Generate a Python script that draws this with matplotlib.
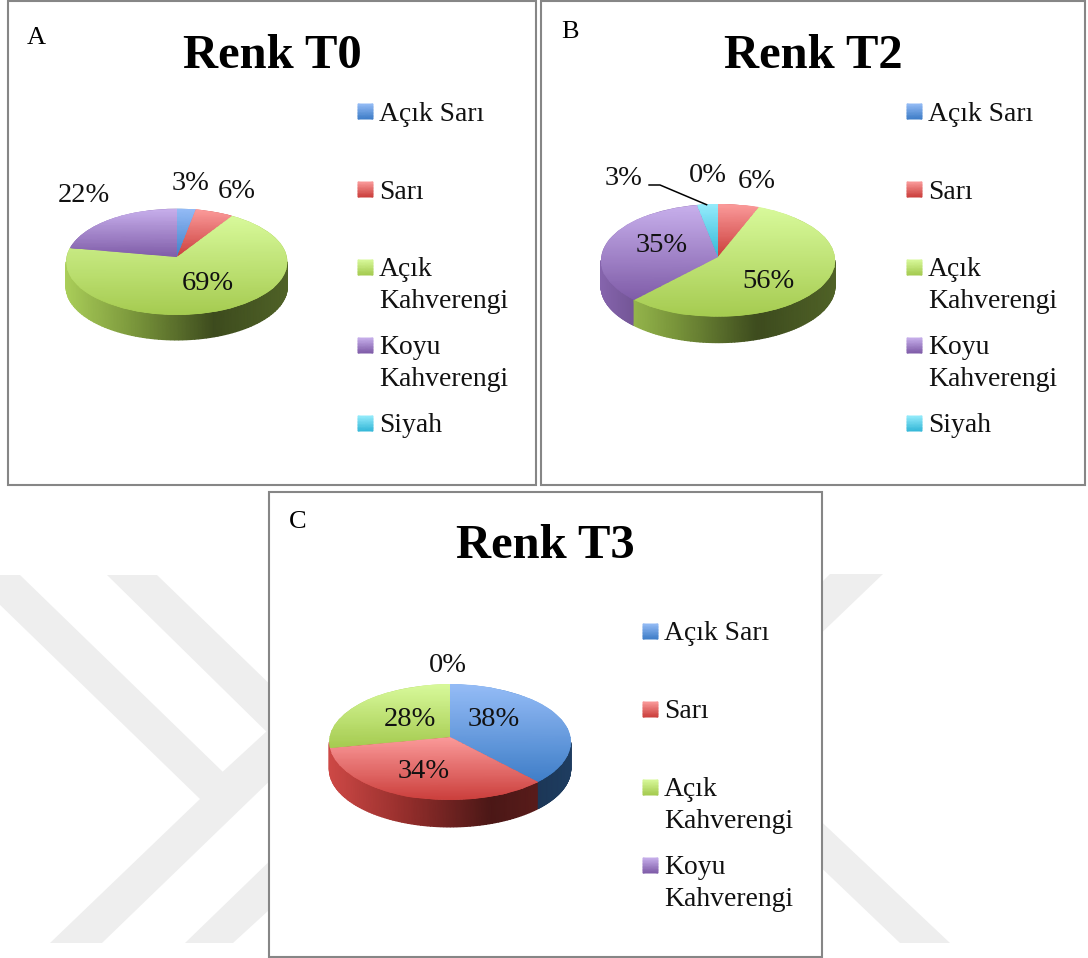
import numpy as np
import matplotlib
matplotlib.use("Agg")
import matplotlib.pyplot as plt
from matplotlib.colors import LinearSegmentedColormap, to_rgb
from matplotlib.patches import Polygon, Rectangle
from matplotlib.transforms import Transform

plt.rcParams['font.family'] = ['Liberation Serif', 'DejaVu Serif']

# ---- data ----
categories_ab = ["Açık Sarı", "Sarı", "Açık\nKahverengi", "Koyu\nKahverengi", "Siyah"]
categories_c = ["Açık Sarı", "Sarı", "Açık\nKahverengi", "Koyu\nKahverengi"]
values_t0 = [3, 6, 69, 22, 0]
values_t2 = [0, 6, 56, 35, 3]
values_t3 = [38, 34, 28, 0]
titles = ["Renk T0", "Renk T2", "Renk T3"]
letters = ["A", "B", "C"]

# ---- styles: (top colour, bottom colour) of each slice ----
FACE = [("#95bcf6", "#3f7ec8"), ("#fb9b9b", "#cb3f3c"), ("#d8f99b", "#a5cb50"),
        ("#c8b0ec", "#7f5ca8"), ("#95ecfc", "#35b8d8")]
INK = "#111111"
W, H = 1088, 958

panels = [
    dict(box=(7.5, 0.5, 536, 484.5), cx=176.7, apex=257.3, a=110.7, up=48.6, low=57.7, depth=25,
         values=values_t0, cats=categories_ab, title=(272, 68), letter=(27, 44),
         leg_x=358, leg_y=104,
         labels=[(191, 183), (237, 191), (208, 283), (84, 195), None]),
    dict(box=(541, 0.5, 1085, 484.5), cx=718, apex=256.7, a=117, up=52.7, low=60, depth=26,
         values=values_t2, cats=categories_ab, title=(813, 68), letter=(561, 38),
         leg_x=907, leg_y=104,
         labels=[(708, 175), (757, 181), (768, 281), (662, 245), (624, 178)]),
    dict(box=(269, 491.5, 821.5, 957), cx=450, apex=736.7, a=120.7, up=52.4, low=63.3, depth=27,
         values=values_t3, cats=categories_c, title=(545, 558), letter=(289, 528),
         leg_x=643, leg_y=624,
         labels=[(494, 720), (424, 772), (410, 720), (448, 666)]),
]

fig = plt.figure(figsize=(W / 100, H / 100), dpi=100, facecolor="white")


def full_axes(z):
    ax = fig.add_axes([0, 0, 1, 1], zorder=z)
    ax.set_xlim(0, W)
    ax.set_ylim(H, 0)
    ax.set_axis_off()
    ax.patch.set_alpha(0)
    return ax


bg = full_axes(0)
fg = full_axes(10)

# faint watermark behind the panels
watermark = [
    [(-5, 575), (20, 575), (222.7, 771.7), (280, 719), (280, 771), (102, 943), (50, 943), (200, 799), (-5, 600)],
    [(107, 575), (157, 575), (280, 694), (280, 745)],
    [(185, 943), (233, 943), (280, 900), (280, 851)],
    [(830, 574), (883, 574), (810, 644), (810, 594)],
    [(810, 811), (950, 943), (900, 943), (810, 857)],
]
for pts in watermark:
    bg.add_patch(Polygon(pts, closed=True, fc="#eeeeee", ec="none", zorder=1))


class Tilt(Transform):
    """Perspective view of the unit pie, in figure pixels."""
    input_dims = output_dims = 2
    is_separable = False
    has_inverse = False

    def __init__(self, cx, apex, a, up, low):
        super().__init__()
        r = up / low
        self.p = (1 - r) / (1 + r)
        self.q = up * (1 + self.p)
        self.a0 = a * np.sqrt(1 - self.p ** 2)
        self.cx, self.apex = cx, apex

    def transform_non_affine(self, v):
        v = np.asarray(v, float)
        w = 1 + self.p * v[:, 1]
        return np.column_stack([self.cx + self.a0 * v[:, 0] / w, self.apex - self.q * v[:, 1] / w])


def gradient(top, bottom):
    return LinearSegmentedColormap.from_list("g", [top, bottom])


def wall_map(base):
    b = np.array(to_rgb(base))
    stops = [(0.0, b * 0.95 + 0.05), (0.31, b * 0.74), (0.67, b * 0.37), (1.0, b * 0.48)]
    return LinearSegmentedColormap.from_list("w", [(u, tuple(np.clip(c, 0, 1))) for u, c in stops])


def wall_pieces(wedges, p):
    """Visible outer-wall angle ranges per slice; slivers are absorbed by their neighbour."""
    edge = np.degrees(np.arcsin(p))
    a0, a1 = 180 + edge, 360 - edge
    pieces = []
    for i, w in enumerate(wedges):
        if w.theta2 - w.theta1 <= 0:
            continue
        for k in (-720, -360, 0, 360):
            lo, hi = max(w.theta1 + k, a0), min(w.theta2 + k, a1)
            if hi > lo:
                pieces.append([i, lo, hi])
    pieces.sort(key=lambda s: s[1])
    merged = []
    for s in pieces:
        if s[2] - s[1] < 8 and len(pieces) > 1:
            if merged:
                merged[-1][2] = s[2]
            else:
                pieces[pieces.index(s) + 1][1] = s[1]
            continue
        merged.append(s)
    return merged


def draw_pie(p):
    ax = fig.add_axes([0, 0, 1, 1], zorder=5)
    ax.patch.set_alpha(0)
    wedges, _ = ax.pie(p["values"], startangle=90, counterclock=False,
                       colors=[FACE[i][1] for i in range(len(p["values"]))],
                       wedgeprops=dict(linewidth=0, zorder=2))
    ax.set_aspect("auto")
    ax.set_xlim(0, W)
    ax.set_ylim(H, 0)
    ax.set_axis_off()
    tilt = Tilt(p["cx"], p["apex"], p["a"], p["up"], p["low"])
    for i, lo, hi in wall_pieces(wedges, tilt.p):
        t = np.radians(np.linspace(lo, hi, 90))
        xy = tilt.transform_non_affine(np.column_stack([np.cos(t), np.sin(t)]))
        X = np.vstack([xy[:, 0], xy[:, 0]])
        Y = np.vstack([xy[:, 1], xy[:, 1] + p["depth"]])
        ax.pcolormesh(X, Y, (X - p["cx"] + p["a"]) / (2 * p["a"]), shading="gouraud",
                      cmap=wall_map(FACE[i][1]), vmin=0, vmax=1, zorder=1)
    for i, w in enumerate(wedges):
        w.set_transform(tilt + ax.transData)
        if w.theta2 - w.theta1 <= 0:
            continue
        ext = tilt.transform_path(w.get_path()).get_extents()
        X, Y = np.meshgrid([ext.x0, ext.x1], np.linspace(ext.y0, ext.y1, 12))
        mesh = ax.pcolormesh(X, Y, (Y - ext.y0) / (ext.y1 - ext.y0), shading="gouraud",
                             cmap=gradient(*FACE[i]), vmin=0, vmax=1, zorder=3)
        mesh.set_clip_path(w)


for idx, p in enumerate(panels):
    x0, y0, x1, y1 = p["box"]
    bg.add_patch(Rectangle((x0, y0), x1 - x0, y1 - y0, fc="white", ec="#868686", lw=1.5, zorder=2))
    draw_pie(p)
    fg.text(p["title"][0], p["title"][1], titles[idx], ha="center", va="baseline",
            fontsize=35, fontweight="bold", color="black")
    fg.text(p["letter"][0], p["letter"][1], letters[idx], ha="left", va="baseline",
            fontsize=19, color="black")
    for v, pos in zip(p["values"], p["labels"]):
        if pos is not None:
            fg.text(pos[0], pos[1], f"{v}%", ha="center", va="center", fontsize=20.5, color=INK)
    for k, cat in enumerate(p["cats"]):
        ty = p["leg_y"] + 78 * k
        xs, ys = np.meshgrid([p["leg_x"], p["leg_x"] + 15], np.linspace(ty, ty + 15, 6))
        fg.pcolormesh(xs, ys, (ys - ty) / 15, shading="gouraud", cmap=gradient(*FACE[k]),
                      vmin=0, vmax=1, zorder=3)
        for n, line in enumerate(cat.split("\n")):
            fg.text(p["leg_x"] + 21, ty + 16.5 + 31 * n, line, ha="left", va="baseline",
                    fontsize=19.9, color=INK)

# leader line of the 3% slice in panel B
fg.plot([648.3, 660, 707.3], [185, 185, 205], color="black", lw=1.1, solid_capstyle="butt")
fg.set_xlim(0, W)
fg.set_ylim(H, 0)

fig.savefig("out.png", dpi=100)
